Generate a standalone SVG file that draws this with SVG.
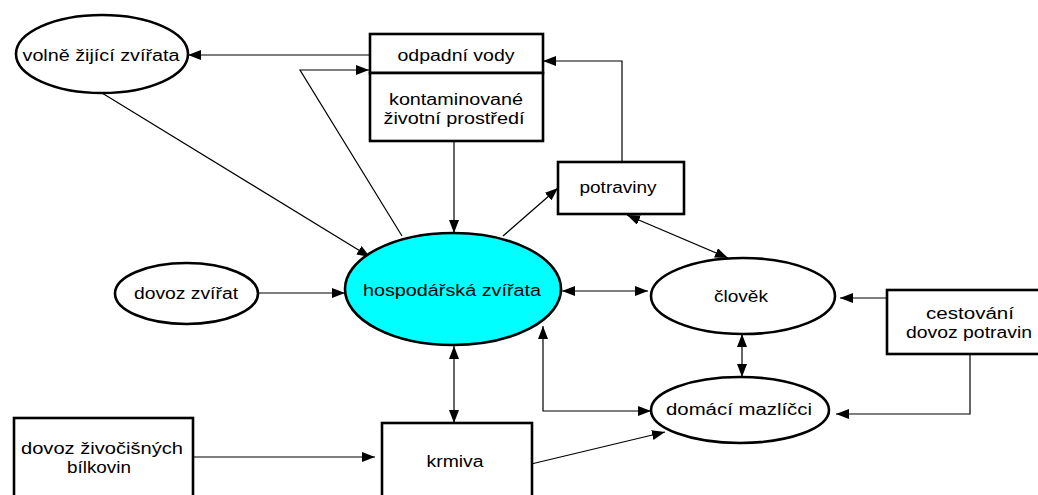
<svg xmlns="http://www.w3.org/2000/svg" width="1038" height="495" viewBox="0 0 1038 495">
<style>
.n{fill:#fff;stroke:#000;stroke-width:2.6}
.hz{fill:#00ffff;stroke:#000;stroke-width:2.6}
.c{fill:none;stroke:#000;stroke-width:1.2}
.t{font-family:"Liberation Sans",Arial,sans-serif;font-size:16px;fill:#000;text-anchor:middle}
</style>
<defs>
<marker id="a" markerUnits="userSpaceOnUse" markerWidth="14" markerHeight="10" refX="13" refY="5" orient="auto-start-reverse">
<path d="M0,0 L13,5 L0,10 z" fill="#000"/>
</marker>
</defs>
<rect width="1038" height="495" fill="#fff"/>
<g id="connectors">
<line class="c" x1="370" y1="55" x2="188" y2="55" marker-end="url(#a)"/>
<polyline class="c" points="402,236 300,70 369,70" marker-end="url(#a)"/>
<line class="c" x1="102" y1="93" x2="370" y2="257" marker-end="url(#a)"/>
<line class="c" x1="454" y1="141" x2="454" y2="233" marker-end="url(#a)"/>
<line class="c" x1="503" y1="236" x2="558" y2="188" marker-end="url(#a)"/>
<polyline class="c" points="622,162 622,61 543,61" marker-end="url(#a)"/>
<line class="c" x1="627" y1="215" x2="728" y2="258" marker-start="url(#a)" marker-end="url(#a)"/>
<line class="c" x1="562" y1="291" x2="648" y2="291" marker-start="url(#a)" marker-end="url(#a)"/>
<line class="c" x1="887" y1="298" x2="840" y2="298" marker-end="url(#a)"/>
<line class="c" x1="742" y1="334" x2="742" y2="377" marker-start="url(#a)" marker-end="url(#a)"/>
<polyline class="c" points="970,354 970,414 836,414" marker-end="url(#a)"/>
<polyline class="c" points="543,326 543,411 651,411" marker-start="url(#a)" marker-end="url(#a)"/>
<line class="c" x1="258" y1="293" x2="345" y2="293" marker-end="url(#a)"/>
<line class="c" x1="454" y1="346" x2="454" y2="423" marker-start="url(#a)" marker-end="url(#a)"/>
<line class="c" x1="193" y1="457" x2="375" y2="457" marker-end="url(#a)"/>
<line class="c" x1="527" y1="465" x2="665" y2="432" marker-end="url(#a)"/>
</g>
<g id="volne">
<ellipse class="n" cx="102" cy="54" rx="86" ry="39"/>
<text class="t" x="101" y="61" textLength="157" lengthAdjust="spacingAndGlyphs">volně žijící zvířata</text>
</g>
<g id="odpadni">
<rect class="n" x="370" y="34" width="173" height="39"/>
<text class="t" x="456" y="61" textLength="117" lengthAdjust="spacingAndGlyphs">odpadní vody</text>
</g>
<g id="kontaminovane">
<rect class="n" x="370" y="73" width="173" height="68"/>
<text class="t" x="456" y="105" textLength="134" lengthAdjust="spacingAndGlyphs">kontaminované</text>
<text class="t" x="454" y="124" textLength="141" lengthAdjust="spacingAndGlyphs">životní prostředí</text>
</g>
<g id="potraviny">
<rect class="n" x="558" y="162" width="126" height="52"/>
<text class="t" x="618" y="193" textLength="77" lengthAdjust="spacingAndGlyphs">potraviny</text>
</g>
<g id="hospodarska">
<ellipse class="hz" cx="453" cy="289" rx="108" ry="56"/>
<text class="t" x="452" y="296" textLength="178" lengthAdjust="spacingAndGlyphs">hospodářská zvířata</text>
</g>
<g id="clovek">
<ellipse class="n" cx="743" cy="296" rx="92" ry="38"/>
<text class="t" x="741" y="302" textLength="54" lengthAdjust="spacingAndGlyphs">člověk</text>
</g>
<g id="cestovani">
<rect class="n" x="887" y="290" width="160" height="64"/>
<text class="t" x="970" y="319" textLength="88" lengthAdjust="spacingAndGlyphs">cestování</text>
<text class="t" x="969" y="338" textLength="126" lengthAdjust="spacingAndGlyphs">dovoz potravin</text>
</g>
<g id="domaci">
<ellipse class="n" cx="740" cy="410" rx="89" ry="33"/>
<text class="t" x="739" y="415" textLength="146" lengthAdjust="spacingAndGlyphs">domácí mazlíčci</text>
</g>
<g id="dovozzvirat">
<ellipse class="n" cx="186.5" cy="293.5" rx="71.5" ry="30.5"/>
<text class="t" x="186" y="299" textLength="104" lengthAdjust="spacingAndGlyphs">dovoz zvířat</text>
</g>
<g id="krmiva">
<rect class="n" x="382" y="423" width="150" height="80"/>
<text class="t" x="455" y="467" textLength="57" lengthAdjust="spacingAndGlyphs">krmiva</text>
</g>
<g id="bilkoviny">
<rect class="n" x="14" y="418" width="179" height="85"/>
<text class="t" x="102" y="454" textLength="162" lengthAdjust="spacingAndGlyphs">dovoz živočišných</text>
<text class="t" x="99" y="473" textLength="64" lengthAdjust="spacingAndGlyphs">bílkovin</text>
</g>
</svg>
